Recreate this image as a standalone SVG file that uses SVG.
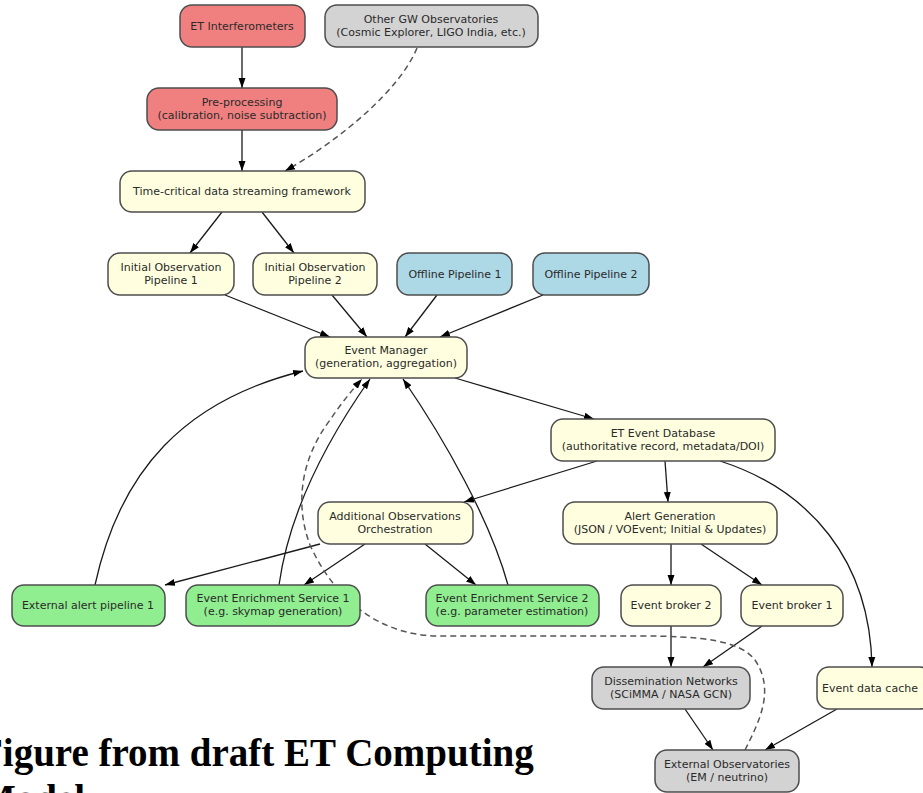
<svg xmlns="http://www.w3.org/2000/svg" width="923" height="793" viewBox="0 0 923 793">
<style>
.n rect{stroke:#4d4d4d;stroke-width:1.5}
.red rect{fill:#F08080}
.gray rect{fill:#D3D3D3}
.yel rect{fill:#FFFFE0}
.blue rect{fill:#ADD8E6}
.green rect{fill:#90EE90}
.n text{font-family:"DejaVu Sans",Verdana,sans-serif;font-size:11px;fill:#2a2a2a;text-anchor:middle}
.e{fill:none;stroke:#1a1a1a;stroke-width:1.3;marker-end:url(#ah)}
.d{fill:none;stroke:#555;stroke-width:1.5;stroke-dasharray:6 4;marker-end:url(#ahg)}
.title{font-family:"Liberation Serif","Times New Roman",serif;font-weight:bold;font-size:39px;fill:#000}
</style>
<defs>
<marker id="ah" markerUnits="userSpaceOnUse" markerWidth="11" markerHeight="8" refX="10" refY="4" orient="auto"><path d="M0,0.5 L10,4 L0,7.5 z" fill="#000"/></marker>
<marker id="ahg" markerUnits="userSpaceOnUse" markerWidth="11" markerHeight="8" refX="10" refY="4" orient="auto"><path d="M0,0.5 L10,4 L0,7.5 z" fill="#000"/></marker>
</defs>
<rect width="923" height="793" fill="#fff"/>
<g id="connectors">
<path class="e" d="M242,47 L242,88"/>
<path class="e" d="M242,130 L242,171"/>
<path class="d" d="M417,48 C400,90 340,140 285,171"/>
<path class="e" d="M222,212 L190,253"/>
<path class="e" d="M262,212 L294,253"/>
<path class="e" d="M225,295 L330,337"/>
<path class="e" d="M332,295 L367,337"/>
<path class="e" d="M437,295 L405,337"/>
<path class="e" d="M543,295 L440,337"/>
<path class="e" d="M455,378 L594,419"/>
<path class="e" d="M597,461 L464,502"/>
<path class="e" d="M665,461 L668,502"/>
<path class="e" d="M720,461 C810,490 870,560 872,667"/>
<path class="e" d="M671,544 L671,585"/>
<path class="e" d="M701,544 L762,585"/>
<path class="e" d="M671,626 L671,667"/>
<path class="e" d="M762,626 L703,667"/>
<path class="e" d="M685,709 L713,750"/>
<path class="e" d="M837,709 L765,750"/>
<path class="e" d="M320,544 L165,585"/>
<path class="e" d="M365,544 L304,585"/>
<path class="e" d="M425,544 L476,585"/>
<path class="e" d="M95,585 C120,470 185,400 303,371"/>
<path class="e" d="M279,585 C288,520 320,450 370,379"/>
<path class="e" d="M508,585 C490,520 445,440 403,379"/>
<path class="d" d="M745,750 C760,720 775,690 755,660 C740,640 700,636 640,636 L440,636 C380,636 335,600 310,545 C295,505 300,460 330,420 C340,405 352,390 362,379"/>
</g>
<g id="n_et" class="n red"><rect x="180" y="5" width="125" height="42" rx="12"/><text x="242" y="30">ET Interferometers</text></g>
<g id="n_othergw" class="n gray"><rect x="325" y="5" width="213" height="42" rx="12"/><text x="431" y="23">Other GW Observatories</text><text x="431" y="36">(Cosmic Explorer, LIGO India, etc.)</text></g>
<g id="n_pre" class="n red"><rect x="147" y="88" width="190" height="42" rx="12"/><text x="242" y="106">Pre-processing</text><text x="242" y="119">(calibration, noise subtraction)</text></g>
<g id="n_tc" class="n yel"><rect x="120" y="171" width="245" height="41" rx="12"/><text x="242" y="195">Time-critical data streaming framework</text></g>
<g id="n_iop1" class="n yel"><rect x="108" y="253" width="126" height="42" rx="12"/><text x="171" y="271">Initial Observation</text><text x="171" y="284">Pipeline 1</text></g>
<g id="n_iop2" class="n yel"><rect x="253" y="253" width="124" height="42" rx="12"/><text x="315" y="271">Initial Observation</text><text x="315" y="284">Pipeline 2</text></g>
<g id="n_off1" class="n blue"><rect x="397" y="253" width="115" height="42" rx="12"/><text x="455" y="278">Offline Pipeline 1</text></g>
<g id="n_off2" class="n blue"><rect x="533" y="253" width="116" height="42" rx="12"/><text x="591" y="278">Offline Pipeline 2</text></g>
<g id="n_em" class="n yel"><rect x="305" y="337" width="162" height="41" rx="12"/><text x="386" y="354">Event Manager</text><text x="386" y="367">(generation, aggregation)</text></g>
<g id="n_db" class="n yel"><rect x="551" y="419" width="224" height="42" rx="12"/><text x="663" y="437">ET Event Database</text><text x="663" y="450">(authoritative record, metadata/DOI)</text></g>
<g id="n_aoo" class="n yel"><rect x="318" y="502" width="155" height="42" rx="12"/><text x="395" y="520">Additional Observations</text><text x="395" y="533">Orchestration</text></g>
<g id="n_ag" class="n yel"><rect x="563" y="502" width="214" height="42" rx="12"/><text x="670" y="520">Alert Generation</text><text x="670" y="533">(JSON / VOEvent; Initial &amp; Updates)</text></g>
<g id="n_eap" class="n green"><rect x="12" y="585" width="153" height="41" rx="12"/><text x="88" y="609">External alert pipeline 1</text></g>
<g id="n_ees1" class="n green"><rect x="186" y="585" width="174" height="41" rx="12"/><text x="273" y="602">Event Enrichment Service 1</text><text x="273" y="615">(e.g. skymap generation)</text></g>
<g id="n_ees2" class="n green"><rect x="426" y="585" width="173" height="41" rx="12"/><text x="512" y="602">Event Enrichment Service 2</text><text x="512" y="615">(e.g. parameter estimation)</text></g>
<g id="n_eb2" class="n yel"><rect x="621" y="585" width="100" height="41" rx="12"/><text x="671" y="609">Event broker 2</text></g>
<g id="n_eb1" class="n yel"><rect x="741" y="585" width="102" height="41" rx="12"/><text x="792" y="609">Event broker 1</text></g>
<g id="n_dn" class="n gray"><rect x="592" y="667" width="158" height="42" rx="12"/><text x="671" y="685">Dissemination Networks</text><text x="671" y="698">(SCiMMA / NASA GCN)</text></g>
<g id="n_cache" class="n yel"><rect x="817" y="667" width="115" height="42" rx="12"/><text x="870" y="692">Event data cache</text></g>
<g id="n_ext" class="n gray"><rect x="655" y="750" width="144" height="42" rx="12"/><text x="727" y="768">External Observatories</text><text x="727" y="781">(EM / neutrino)</text></g>
<text class="title" x="-21" y="766">Figure from draft ET Computing</text>
<text class="title" x="-21" y="812">Model</text>
</svg>
